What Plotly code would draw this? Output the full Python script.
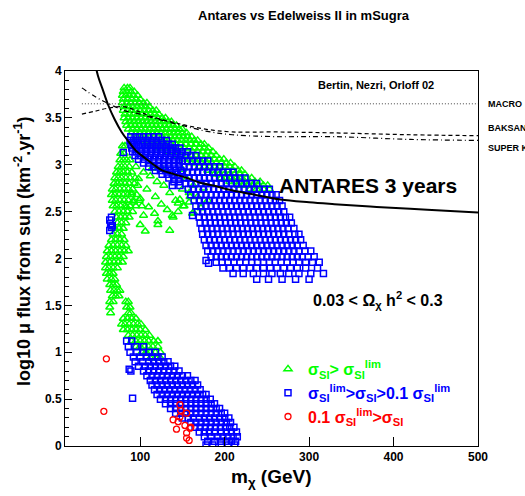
import plotly.graph_objects as go

# ---------------- data ----------------
X_TICKS = [100, 200, 300, 400, 500]
Y_TICKS = [0, 0.5, 1, 1.5, 2, 2.5, 3, 3.5, 4]

antares_m = [45, 50, 55, 62, 70, 78, 86, 95, 106, 116, 126, 140, 155, 170, 190, 207, 230, 266, 300, 330, 380, 440, 500]
antares_y = [4.15, 3.95, 3.82, 3.64, 3.48, 3.35, 3.25, 3.15, 3.07, 3.00, 2.94, 2.90, 2.86, 2.81, 2.77, 2.73, 2.69, 2.63, 2.60, 2.58, 2.55, 2.52, 2.49]

macro_m = [31, 500]
macro_y = [3.65, 3.65]

baksan_m = [31, 46, 60, 80, 95, 115, 145, 177, 209, 260, 329, 420, 500]
baksan_y = [3.54, 3.57, 3.60, 3.62, 3.58, 3.51, 3.44, 3.38, 3.35, 3.35, 3.34, 3.32, 3.31]

superk_m = [31, 46, 56, 70, 80, 95, 115, 145, 177, 209, 260, 329, 420, 500]
superk_y = [3.82, 3.73, 3.68, 3.62, 3.58, 3.55, 3.50, 3.43, 3.36, 3.32, 3.30, 3.30, 3.27, 3.26]

# green triangles (sigma_SI > sigma_lim), dense upper band, rows (log flux, masses)
green_band = [
    (3.82, [81, 85, 88]),
    (3.78, [80, 84, 89, 93]),
    (3.74, [79, 83, 87, 92, 97]),
    (3.70, [80, 85, 90, 95, 100]),
    (3.66, [79, 84, 89, 94, 99, 104, 108]),
    (3.62, [81, 86, 91, 96, 101, 106, 111]),
    (3.58, [80, 85, 90, 95, 100, 105, 110, 115, 119]),
    (3.54, [82, 87, 92, 97, 102, 107, 112, 117, 122]),
    (3.50, [81, 86, 91, 96, 101, 106, 111, 116, 121, 126, 130]),
    (3.46, [83, 88, 93, 98, 103, 108, 113, 118, 123, 128, 133, 137]),
    (3.42, [84, 89, 94, 99, 104, 109, 114, 119, 124, 129, 134, 139, 143]),
    (3.38, [86, 91, 96, 101, 106, 111, 116, 121, 126, 131, 136, 141, 146, 150]),
    (3.34, [90, 95, 100, 105, 110, 115, 120, 125, 130, 135, 140, 145, 150, 155]),
    (3.30, [96, 101, 106, 111, 116, 121, 126, 131, 136, 141, 146, 151, 156, 161]),
    (3.26, [104, 109, 114, 119, 124, 129, 134, 139, 144, 149, 154, 159, 164, 168]),
    (3.22, [112, 118, 124, 130, 136, 142, 148, 154, 160, 166, 172, 176]),
    (3.18, [122, 128, 134, 140, 146, 152, 158, 164, 170, 176, 181]),
    (3.14, [132, 138, 144, 150, 156, 162, 168, 174, 180, 186]),
    (3.10, [142, 148, 154, 160, 166, 172, 178, 184, 190]),
    (3.06, [152, 158, 164, 170, 176, 182, 188, 194, 199]),
    (3.02, [160, 166, 172, 178, 184, 190, 196, 202, 207]),
    (2.98, [170, 176, 182, 188, 194, 200, 206, 212]),
    (2.94, [180, 186, 192, 198, 204, 210, 216, 220]),
    (2.90, [188, 194, 200, 206, 212, 218, 224]),
    (2.86, [196, 202, 208, 214, 220, 226, 232]),
    (2.82, [206, 212, 218, 224, 230, 236, 242]),
    (2.78, [216, 222, 228, 234, 240, 246, 251]),
    (2.74, [230, 238, 246, 253]),
]

# green triangles, the left arm going down to log flux ~1
green_arm = [
    (3.20, [79, 82]),
    (3.12, [77, 81]),
    (3.05, [76, 80, 84]),
    (2.98, [74, 78, 82, 87]),
    (2.92, [72, 76, 80, 85, 90]),
    (2.86, [70, 74, 78, 83, 88, 94]),
    (2.80, [69, 73, 77, 82, 87, 93]),
    (2.74, [67, 71, 76, 81, 86, 91]),
    (2.68, [66, 70, 75, 80, 85, 90, 96]),
    (2.62, [67, 71, 76, 81, 86, 92, 99]),
    (2.56, [68, 72, 77, 82, 88, 95, 102]),
    (2.50, [70, 75, 80, 85, 91]),
    (2.44, [72, 77, 82, 87]),
    (2.38, [73, 78, 83]),
    (2.32, [70, 75, 80]),
    (2.26, [68, 73, 78]),
    (2.20, [66, 71, 76, 81]),
    (2.14, [63, 68, 73, 78, 83]),
    (2.08, [61, 66, 71, 76, 81, 86]),
    (2.02, [60, 65, 70, 75, 80]),
    (1.96, [59, 64, 69, 74, 79]),
    (1.90, [59, 63, 68, 73]),
    (1.84, [60, 64, 68]),
    (1.78, [61, 66, 70]),
    (1.72, [64, 68, 72]),
    (1.66, [65, 69, 73, 76]),
    (1.60, [67, 71, 75]),
    (1.54, [64, 68, 83, 86]),
    (1.48, [64, 84, 88]),
    (1.42, [65, 86, 89]),
    (1.36, [80, 85, 90, 95]),
    (1.30, [78, 82, 87, 92, 97, 101]),
    (1.24, [80, 85, 90, 95, 100, 106]),
    (1.18, [86, 91, 96, 101, 106, 111]),
    (1.12, [90, 95, 100, 105, 110, 116, 121]),
    (1.06, [95, 100, 105, 110, 115, 121]),
    (1.00, [102, 107, 112, 118, 124]),
    (0.94, [112, 118, 124]),
]

# green triangles, scattered points under the upper band
green_sparse_m = [88, 95, 104, 112, 120, 97, 108, 128, 135, 118, 100, 142, 150, 125, 110, 158, 132, 145, 162, 117,
                  104, 139, 152, 168, 172, 90, 127, 140, 98, 114, 155, 163, 121, 100, 106, 121, 138, 145, 158, 175,
                  180, 150, 92, 84, 135, 147, 151, 159, 163]
green_sparse_y = [3.05, 2.98, 2.92, 2.88, 2.82, 2.78, 2.74, 2.78, 2.70, 2.66, 2.64, 2.62, 2.74, 2.58, 2.55, 2.60, 2.52, 2.50, 2.48, 2.48,
                  2.46, 2.44, 2.56, 2.66, 2.54, 2.70, 2.95, 2.88, 2.85, 2.96, 2.85, 2.78, 2.40, 2.36, 2.29, 2.36, 2.46, 2.59, 2.70, 2.75,
                  2.62, 2.95, 2.60, 2.55, 2.30, 2.63, 2.56, 2.66, 2.49]

# blue squares (sigma_lim > sigma_SI > 0.1 sigma_lim), strip along the ANTARES curve
blue_strip = [
    (3.30, [89, 94, 99, 104, 110, 116, 122]),
    (3.26, [88, 92, 97, 102, 108, 113, 119, 125, 131]),
    (3.22, [89, 93, 98, 103, 109, 115, 121, 127, 133, 138]),
    (3.18, [90, 95, 100, 106, 112, 118, 124, 130, 136, 142, 147]),
    (3.14, [91, 96, 102, 108, 114, 120, 126, 132, 138, 144]),
    (3.10, [94, 100, 106, 112, 118, 124, 130, 136, 142]),
    (3.06, [98, 104, 110, 116, 122, 128, 134, 140, 146]),
    (3.02, [104, 110, 116, 122, 128, 134, 140, 146]),
    (2.98, [110, 116, 122, 128, 134, 140, 146]),
    (2.94, [118, 124, 130, 136, 142, 148]),
    (2.90, [126, 132, 138, 144]),
    (2.86, [134, 140, 146]),
    (2.82, [140, 146]),
    (2.78, [138, 147]),
]

# blue squares, the big cluster between 150 and 320 GeV
blue_blob = [
    (3.14, [150, 156]),
    (3.10, [148, 154, 160, 166]),
    (3.04, [150, 156, 162, 168, 174, 180]),
    (2.98, [152, 158, 164, 170, 176, 182, 188, 194]),
    (2.92, [150, 156, 162, 168, 174, 180, 186, 192, 198, 204, 210]),
    (2.86, [152, 158, 164, 170, 176, 182, 188, 194, 200, 206, 212, 218, 224]),
    (2.80, [154, 160, 166, 172, 178, 184, 190, 196, 202, 208, 214, 220, 226, 232, 238]),
    (2.74, [157, 163, 169, 175, 181, 187, 193, 199, 205, 211, 217, 223, 229, 235, 241, 247, 253]),
    (2.68, [160, 166, 172, 178, 184, 190, 196, 202, 208, 214, 220, 226, 232, 238, 244, 250, 256, 261]),
    (2.62, [164, 170, 176, 182, 188, 194, 200, 206, 212, 218, 224, 230, 236, 242, 248, 254, 260, 265]),
    (2.56, [166, 172, 178, 184, 190, 196, 202, 208, 214, 220, 226, 232, 238, 244, 250, 256, 262, 268]),
    (2.50, [168, 174, 180, 186, 192, 198, 204, 210, 216, 222, 228, 234, 240, 246, 252, 258, 264, 270]),
    (2.44, [170, 176, 182, 188, 194, 200, 206, 212, 218, 224, 230, 236, 242, 248, 254, 260, 266, 272, 277]),
    (2.38, [171, 177, 183, 189, 195, 201, 207, 213, 219, 225, 231, 237, 243, 249, 255, 261, 267, 273, 279]),
    (2.32, [173, 179, 185, 191, 197, 203, 209, 215, 221, 227, 233, 239, 245, 251, 257, 263, 269, 275, 282]),
    (2.26, [174, 180, 186, 192, 198, 204, 210, 216, 222, 228, 234, 240, 246, 252, 258, 264, 270, 276, 283, 288]),
    (2.20, [176, 182, 188, 194, 200, 206, 212, 218, 224, 230, 236, 242, 248, 254, 260, 266, 272, 278, 284, 290]),
    (2.14, [178, 184, 190, 196, 202, 208, 214, 220, 226, 232, 238, 244, 250, 256, 262, 268, 274, 280, 286, 293]),
    (2.08, [180, 186, 192, 198, 204, 210, 216, 222, 228, 234, 240, 246, 252, 258, 264, 270, 276, 282, 288, 295, 302]),
    (2.02, [184, 190, 196, 202, 208, 214, 220, 226, 232, 238, 244, 250, 256, 262, 268, 274, 280, 286, 292, 299, 306]),
    (1.96, [190, 197, 204, 211, 218, 225, 232, 239, 246, 253, 260, 267, 274, 281, 288, 296, 304, 312]),
    (1.90, [198, 206, 214, 222, 230, 238, 246, 254, 262, 270, 278, 286, 296, 310]),
    (1.84, [210, 222, 234, 246, 256, 266, 276, 288, 302, 317]),
    (1.78, [238, 252, 268, 284, 300]),
]

# blue squares, lower diagonal band reaching zero
blue_tail = [
    (1.12, [84, 90]),
    (1.06, [86, 95, 104]),
    (1.00, [88, 96, 104, 110, 118]),
    (0.95, [92, 100, 108, 114, 121, 126]),
    (0.90, [94, 103, 110, 116, 122, 128, 133]),
    (0.85, [98, 106, 112, 118, 124, 130, 136, 141]),
    (0.80, [104, 110, 116, 122, 128, 134, 140, 146]),
    (0.75, [108, 114, 120, 126, 132, 138, 144, 150, 156]),
    (0.70, [112, 118, 124, 130, 136, 142, 148, 154, 160, 165]),
    (0.65, [114, 120, 126, 132, 138, 144, 150, 156, 162, 168]),
    (0.60, [117, 123, 129, 135, 141, 147, 153, 159, 165, 171]),
    (0.55, [120, 126, 132, 138, 144, 150, 156, 162, 168, 174, 178]),
    (0.50, [124, 130, 136, 142, 148, 154, 160, 166, 172, 178, 183]),
    (0.45, [130, 136, 142, 148, 154, 160, 166, 172, 178, 184, 188]),
    (0.40, [136, 142, 148, 154, 160, 166, 172, 178, 184, 190, 194]),
    (0.35, [142, 148, 154, 160, 166, 172, 178, 184, 190, 196, 200]),
    (0.30, [150, 157, 163, 170, 176, 182, 188, 194, 200, 205]),
    (0.25, [160, 166, 172, 178, 184, 190, 196, 202, 207]),
    (0.20, [165, 171, 177, 183, 189, 195, 201, 206, 211]),
    (0.15, [170, 176, 182, 188, 196, 202, 208, 214]),
    (0.10, [176, 184, 192, 198, 204, 210, 215]),
    (0.05, [180, 188, 196, 202, 208, 213]),
    (0.01, [178, 186, 196, 204, 212]),
]

# isolated blue squares
blue_iso_m = [80, 66, 64, 65, 66, 64, 67, 162, 178, 181, 91, 87, 89]
blue_iso_y = [3.13, 2.44, 2.41, 2.37, 2.33, 2.30, 2.35, 2.46, 1.98, 1.95, 0.51, 0.82, 0.80]

# red circles (0.1 sigma_lim > sigma_SI)
red_m = [60, 57, 147, 148, 147, 139, 145, 155, 153, 159, 143, 155, 155, 158, 160]
red_y = [0.93, 0.37, 0.44, 0.38, 0.31, 0.28, 0.26, 0.35, 0.22, 0.19, 0.18, 0.14, 0.085, 0.06, 0.20]


def unpack(rows):
    xs, ys = [], []
    for yv, ms in rows:
        for mv in ms:
            xs.append(mv)
            ys.append(yv)
    return xs, ys


# ---------------- figure ----------------
W, H = 525, 496
L, R, T, B = 65, 47, 71, 50
PW, PH = W - L - R, H - T - B
FONT = "Liberation Sans, Arial, Helvetica, sans-serif"


def px(x):
    return (x - L) / PW


def py(y):
    return (H - B - y) / PH


gx1, gy1 = unpack(green_band)
gx2, gy2 = unpack(green_arm)
green_m = gx1 + gx2 + green_sparse_m
green_y = gy1 + gy2 + green_sparse_y

bx1, by1 = unpack(blue_strip)
bx2, by2 = unpack(blue_blob)
bx3, by3 = unpack(blue_tail)
blue_m = bx1 + bx2 + bx3 + blue_iso_m
blue_y = by1 + by2 + by3 + blue_iso_y

fig = go.Figure()

fig.add_trace(go.Scatter(
    x=green_m, y=green_y, mode="markers",
    marker=dict(symbol="triangle-up-open", size=7, color="#00ff00", line=dict(width=1.5, color="#00ff00")),
    name='<b><span style="color:#00ff00">σ<sub>SI</sub>> σ<sub>SI</sub><sup>lim</sup></span></b>',
))
fig.add_trace(go.Scatter(
    x=blue_m, y=blue_y, mode="markers",
    marker=dict(symbol="square-open", size=6, color="#0000ff", line=dict(width=1.5, color="#0000ff")),
    name='<b><span style="color:#0000ff">σ<sub>SI</sub><sup>lim</sup>>σ<sub>SI</sub>>0.1 σ<sub>SI</sub><sup>lim</sup></span></b>',
))
fig.add_trace(go.Scatter(
    x=red_m, y=red_y, mode="markers",
    marker=dict(symbol="circle-open", size=6, color="#ff0000", line=dict(width=1.3, color="#ff0000")),
    name='<b><span style="color:#ff0000">0.1 σ<sub>SI</sub><sup>lim</sup>>σ<sub>SI</sub></span></b>',
))

fig.add_trace(go.Scatter(x=macro_m, y=macro_y, mode="lines", showlegend=False,
                         line=dict(color="#444444", width=1, dash="1px,2px")))
fig.add_trace(go.Scatter(x=baksan_m, y=baksan_y, mode="lines", showlegend=False,
                         line=dict(color="black", width=1.2, dash="4px,3px", shape="spline")))
fig.add_trace(go.Scatter(x=superk_m, y=superk_y, mode="lines", showlegend=False,
                         line=dict(color="black", width=1.2, dash="5px,3px,1px,3px", shape="spline")))
fig.add_trace(go.Scatter(x=antares_m, y=antares_y, mode="lines", showlegend=False,
                         line=dict(color="black", width=2, shape="spline")))

ann = []


def text(x, y, s, size, color="black", xanchor="center", angle=0):
    ann.append(dict(x=px(x), y=py(y), xref="paper", yref="paper", text=s, showarrow=False,
                    xanchor=xanchor, yanchor="middle", textangle=angle,
                    font=dict(family=FONT, size=size, color=color)))


text(304, 15, "<b>Antares vs Edelweiss II in mSugra</b>", 13)
text(376, 85, "<b>Bertin, Nezri, Orloff 02</b>", 11)
text(486, 104, "<b>MACRO</b>", 9, xanchor="left")
text(486, 128, "<b>BAKSAN</b>", 9, xanchor="left")
text(486, 148, "<b>SUPER K</b>", 9, xanchor="left")
text(368, 185, "<b>ANTARES 3 years</b>", 21)
text(378, 300, "<b>0.03 < Ω<sub>χ</sub> h<sup>2</sup> < 0.3</b>", 16)
text(271, 478, "<b>m<sub>χ</sub> (GeV)</b>", 19)
text(22, 252, "<b>log10 μ flux from sun (km<sup>-2</sup>.yr<sup>-1</sup>)</b>", 18, angle=-90)

fig.update_layout(
    width=W, height=H,
    margin=dict(l=L, r=R, t=T, b=B, pad=0),
    paper_bgcolor="white", plot_bgcolor="white",
    font=dict(family=FONT, color="black"),
    annotations=ann,
    showlegend=True,
    legend=dict(x=px(268), y=py(352), xanchor="left", yanchor="top",
                bgcolor="rgba(0,0,0,0)", font=dict(family=FONT, size=16),
                tracegroupgap=0, itemclick=False),
    xaxis=dict(range=[11, 500], tickvals=X_TICKS, ticktext=[f"<b>{v}</b>" for v in X_TICKS],
               ticks="inside", ticklen=9, tickwidth=1, tickcolor="black",
               showline=True, linecolor="black", linewidth=1, mirror=True,
               showgrid=False, zeroline=False, tickfont=dict(size=12, family=FONT)),
    yaxis=dict(range=[0, 4], tickvals=Y_TICKS, ticktext=[f"<b>{v:g}</b>" for v in Y_TICKS],
               ticks="inside", ticklen=7, tickwidth=1, tickcolor="black",
               minor=dict(dtick=0.1, ticks="inside", ticklen=4, tickcolor="black"),
               showline=True, linecolor="black", linewidth=1, mirror=True,
               showgrid=False, zeroline=False, tickfont=dict(size=12, family=FONT)),
)

fig.write_html("out.html")
